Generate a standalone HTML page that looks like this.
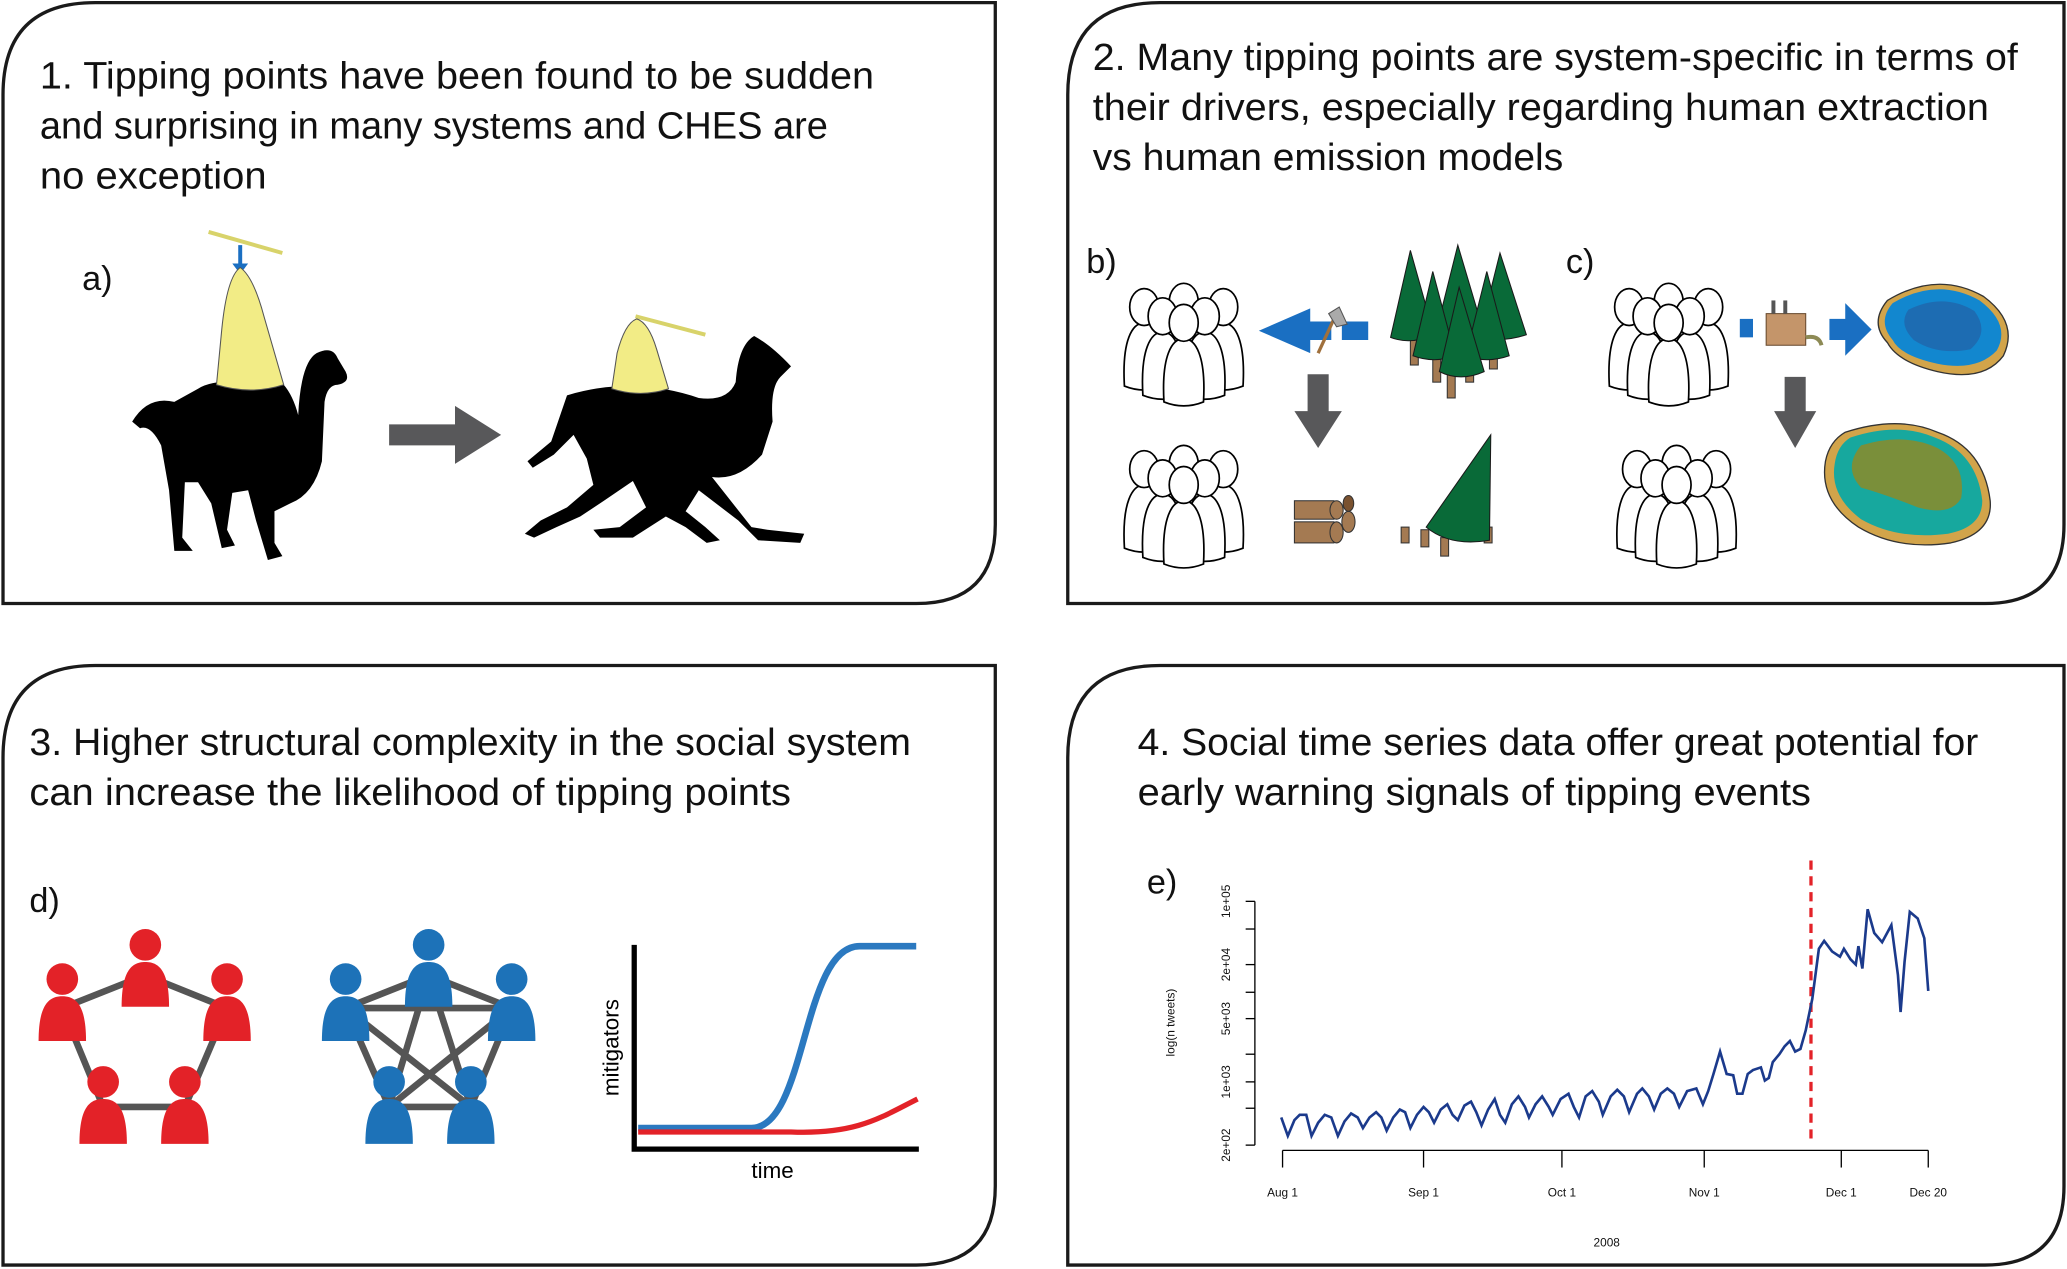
<!DOCTYPE html>
<html><head><meta charset="utf-8"><style>
html,body{margin:0;padding:0;background:#fff;}
svg{display:block;}
text{font-family:"Liberation Sans",sans-serif;}
</style></head><body>
<svg width="2067" height="1269" viewBox="0 0 1568 963" xmlns="http://www.w3.org/2000/svg">
<defs>
<g id="p">
<path d="M-15,60 C-17,25 -9,12 0,12 C9,12 17,25 15,60 Q0,66 -15,60Z" fill="#fff" stroke="#000" stroke-width="1.3"/>
<ellipse cx="0" cy="0" rx="11" ry="14" fill="#fff" stroke="#000" stroke-width="1.3"/>
</g>
<g id="crowd">
<use href="#p" x="-30" y="-12"/><use href="#p" x="30" y="-12"/><use href="#p" x="0" y="-16"/>
<use href="#p" x="-16" y="-5"/><use href="#p" x="16" y="-5"/><use href="#p" x="0" y="0"/>
</g>
<g id="rp"><path d="M-18,40 C-18,12 -10,6 0,6 C10,6 18,12 18,40 Z"/><circle cx="0" cy="-7" r="12"/></g>
</defs>

<!-- panels -->
<g fill="none" stroke="#1a1a1a" stroke-width="2.5">
<path d="M2,458 L2,72 Q2,2 72,2 L755,2 L755,398 Q755,458 695,458 Z"/>
<path d="M810,458 L810,72 Q810,2 880,2 L1566,2 L1566,398 Q1566,458 1506,458 Z"/>
<path d="M2,960 L2,575 Q2,505 72,505 L755,505 L755,900 Q755,960 695,960 Z"/>
<path d="M810,960 L810,575 Q810,505 880,505 L1566,505 L1566,900 Q1566,960 1506,960 Z"/>
</g>

<!-- headings -->
<g font-size="29" fill="#111">
<text x="30" y="67" textLength="633" lengthAdjust="spacingAndGlyphs">1. Tipping points have been found to be sudden</text>
<text x="30" y="105" textLength="598" lengthAdjust="spacingAndGlyphs">and surprising in many systems and CHES are</text>
<text x="30" y="143" textLength="172" lengthAdjust="spacingAndGlyphs">no exception</text>
<text x="829" y="53" textLength="702" lengthAdjust="spacingAndGlyphs">2. Many tipping points are system-specific in terms of</text>
<text x="829" y="91" textLength="680" lengthAdjust="spacingAndGlyphs">their drivers, especially regarding human extraction</text>
<text x="829" y="129" textLength="357" lengthAdjust="spacingAndGlyphs">vs human emission models</text>
<text x="22" y="573" textLength="669" lengthAdjust="spacingAndGlyphs">3. Higher structural complexity in the social system</text>
<text x="22" y="611" textLength="578" lengthAdjust="spacingAndGlyphs">can increase the likelihood of tipping points</text>
<text x="863" y="573" textLength="638" lengthAdjust="spacingAndGlyphs">4. Social time series data offer great potential for</text>
<text x="863" y="611" textLength="511" lengthAdjust="spacingAndGlyphs">early warning signals of tipping events</text>
</g>
<g font-size="26" fill="#111">
<text x="62" y="220">a)</text><text x="824" y="207">b)</text><text x="1188" y="207">c)</text>
<text x="22" y="692">d)</text><text x="870" y="678">e)</text>
</g>

<!-- panel 1: camels -->
<line x1="158" y1="176" x2="214" y2="192" stroke="#d8d36a" stroke-width="3"/>
<line x1="182" y1="186" x2="182" y2="202" stroke="#1a6fc2" stroke-width="3"/>
<path d="M176,200 L188,200 L182,208Z" fill="#1a6fc2"/>
<path d="M150,295 Q165,285 215,292 Q222,300 226,315 Q228,275 240,268 Q252,262 256,272 L262,282 Q266,290 256,292 Q248,292 246,305 L244,350 Q238,375 220,382 L208,388 L208,412 L214,422 L203,425 L194,395 L188,372 L176,374 L172,402 L178,414 L168,416 L160,382 L150,366 L140,366 L138,408 L146,418 L132,418 L128,372 L122,338 Q114,322 106,325 L100,320 Q112,300 132,305 Z" fill="#000"/>
<path d="M164,292 L168,250 Q172,210 182,203 Q192,210 200,240 L215,292 Q190,300 164,292Z" fill="#f2ec86" stroke="#555" stroke-width="0.8"/>
<path d="M295,322 L345,322 L345,308 L380,330 L345,352 L345,338 L295,338Z" fill="#58585a"/>
<line x1="482" y1="240" x2="535" y2="254" stroke="#d8d36a" stroke-width="3"/>
<path d="M430,300 Q480,285 530,302 Q552,305 558,290 Q560,262 572,255 Q585,262 600,278 L592,286 Q584,294 586,320 L578,345 Q560,365 540,362 L570,400 L582,402 L610,405 L607,412 L575,410 L560,395 L530,372 L520,388 L535,400 L546,410 L536,412 L520,400 L505,392 L480,408 L455,408 L450,402 L470,400 L490,385 L480,365 L458,380 L440,392 L422,400 L405,408 L398,405 L410,395 L430,385 L450,368 L445,348 L435,330 L420,345 L404,355 L400,350 L418,335 Z" fill="#000"/>
<path d="M464,295 L468,268 Q474,245 483,242 Q492,245 498,265 L507,295 Q486,302 464,295Z" fill="#f2ec86" stroke="#555" stroke-width="0.8"/>

<!-- panel 2 b -->
<use href="#crowd" x="898" y="245"/>
<use href="#crowd" x="898" y="368"/>
<path d="M1018,244 L1038,244 L1038,258 L1018,258Z M1010,244 L994,244 L994,234 L955,251 L994,268 L994,258 L1010,258Z" fill="#1a6fc2"/>
<line x1="1000" y1="268" x2="1012" y2="242" stroke="#a0703c" stroke-width="2.5"/>
<path d="M1008,238 L1016,233 L1022,246 L1014,248Z" fill="#aaa" stroke="#555" stroke-width="0.8"/>
<path d="M992,284 L1008,284 L1008,312 L1018,312 L1000,340 L982,312 L992,312Z" fill="#58585a"/>
<g fill="#a47a52" stroke="#333" stroke-width="0.8">
<rect x="1070" y="255" width="6" height="22"/><rect x="1098" y="268" width="6" height="34"/><rect x="1112" y="262" width="6" height="28"/><rect x="1087" y="262" width="6" height="28"/><rect x="1130" y="255" width="6" height="25"/>
</g>
<g fill="#096a38" stroke="#1a1a1a" stroke-width="0.8">
<path d="M1070,190 L1055,256 Q1070,262 1088,254Z"/><path d="M1106,186 L1090,250 Q1108,256 1125,250Z"/><path d="M1138,192 L1122,256 Q1140,260 1158,254Z"/>
<path d="M1087,206 L1072,270 Q1088,276 1104,270Z"/><path d="M1128,206 L1112,270 Q1128,276 1145,270Z"/><path d="M1107,218 L1092,282 Q1108,290 1126,282Z"/>
</g>
<g fill="#a47a52" stroke="#333" stroke-width="0.8">
<rect x="982" y="380" width="30" height="14"/><rect x="982" y="396" width="30" height="16"/>
<ellipse cx="1014" cy="387" rx="5" ry="7"/><ellipse cx="1014" cy="404" rx="5" ry="8"/><ellipse cx="1023" cy="396" rx="5" ry="8"/><ellipse cx="1023" cy="382" rx="4" ry="6" fill="#7a5230"/>
<rect x="1063" y="400" width="6" height="12"/><rect x="1078" y="402" width="6" height="13"/><rect x="1093" y="408" width="6" height="14"/><rect x="1126" y="400" width="6" height="12"/>
</g>
<path d="M1131,330 L1082,400 Q1100,415 1130,410Z" fill="#096a38" stroke="#1a1a1a" stroke-width="0.8"/>

<!-- panel 2 c -->
<use href="#crowd" x="1266" y="245"/>
<use href="#crowd" x="1272" y="368"/>
<rect x="1320" y="242" width="10" height="14" fill="#1a6fc2"/>
<rect x="1340" y="238" width="30" height="24" fill="#c4956a" stroke="#6a4c30" stroke-width="0.8"/>
<rect x="1344" y="228" width="3" height="10" fill="#555"/><rect x="1353" y="228" width="3" height="10" fill="#555"/>
<path d="M1370,256 Q1380,254 1382,262" stroke="#8d8a55" stroke-width="3" fill="none"/>
<path d="M1388,242 L1400,242 L1400,230 L1420,250 L1400,270 L1400,258 L1388,258Z" fill="#1a6fc2"/>
<path d="M1354,286 L1370,286 L1370,312 L1378,312 L1362,340 L1346,312 L1354,312Z" fill="#58585a"/>
<path d="M1432,228 Q1470,205 1505,225 Q1532,245 1520,270 Q1505,290 1470,282 Q1440,275 1432,260 Q1418,245 1432,228Z" fill="#d2a44a" stroke="#333" stroke-width="1"/>
<path d="M1436,230 Q1470,210 1502,228 Q1526,246 1515,266 Q1500,282 1470,276 Q1442,270 1436,258 Q1424,244 1436,230Z" fill="#1287cf"/>
<path d="M1448,235 Q1475,222 1498,236 Q1510,252 1495,265 Q1470,270 1452,258 Q1440,246 1448,235Z" fill="#1d6cb2"/>
<path d="M1400,328 Q1440,315 1470,328 Q1505,340 1510,380 Q1512,405 1480,412 Q1440,418 1410,400 Q1380,380 1385,350 Q1388,335 1400,328Z" fill="#d2a44a" stroke="#333" stroke-width="1"/>
<path d="M1404,332 Q1440,320 1468,332 Q1500,344 1504,380 Q1504,400 1478,405 Q1440,410 1412,394 Q1388,376 1392,352 Q1394,338 1404,332Z" fill="#17a89e"/>
<path d="M1412,338 Q1445,328 1470,340 Q1492,352 1488,378 Q1480,392 1455,385 Q1430,375 1412,370 Q1398,355 1412,338Z" fill="#7a8f3a"/>

<!-- panel 3 networks -->
<g stroke="#555" stroke-width="5">
<line x1="47" y1="765" x2="110" y2="740"/><line x1="110" y1="740" x2="172" y2="765"/><line x1="172" y1="765" x2="140" y2="840"/><line x1="140" y1="840" x2="78" y2="840"/><line x1="78" y1="840" x2="47" y2="765"/>
<line x1="262" y1="765" x2="325" y2="740"/><line x1="325" y1="740" x2="388" y2="765"/><line x1="388" y1="765" x2="357" y2="840"/><line x1="357" y1="840" x2="295" y2="840"/><line x1="295" y1="840" x2="262" y2="765"/>
<line x1="262" y1="765" x2="388" y2="765"/><line x1="262" y1="765" x2="357" y2="840"/><line x1="325" y1="740" x2="295" y2="840"/><line x1="325" y1="740" x2="357" y2="840"/><line x1="388" y1="765" x2="295" y2="840"/>
</g>
<g fill="#e32228">
<use href="#rp" x="47" y="750"/><use href="#rp" x="110" y="724"/><use href="#rp" x="172" y="750"/><use href="#rp" x="78" y="828"/><use href="#rp" x="140" y="828"/>
</g>
<g fill="#1d72b8">
<use href="#rp" x="262" y="750"/><use href="#rp" x="325" y="724"/><use href="#rp" x="388" y="750"/><use href="#rp" x="295" y="828"/><use href="#rp" x="357" y="828"/>
</g>
<path d="M481,717 L481,872 L697,872" fill="none" stroke="#000" stroke-width="4"/>
<path d="M484,856 L570,856 C612,856 608,718 652,718 L695,718" fill="none" stroke="#2b79c0" stroke-width="5"/>
<path d="M484,859 L600,859 C650,861 668,848 696,834" fill="none" stroke="#e32228" stroke-width="4"/>
<text x="586" y="894" font-size="17" text-anchor="middle">time</text>
<text transform="translate(469,795) rotate(-90)" font-size="17" text-anchor="middle">mitigators</text>

<!-- panel 4 chart -->
<g stroke="#000" stroke-width="1" fill="none">
<line x1="952" y1="684" x2="952" y2="869"/>
<line x1="945" y1="684" x2="952" y2="684"/><line x1="945" y1="705" x2="952" y2="705"/><line x1="945" y1="732" x2="952" y2="732"/><line x1="945" y1="753" x2="952" y2="753"/><line x1="945" y1="773" x2="952" y2="773"/><line x1="945" y1="800" x2="952" y2="800"/><line x1="945" y1="821" x2="952" y2="821"/><line x1="945" y1="841" x2="952" y2="841"/><line x1="945" y1="869" x2="952" y2="869"/>
<line x1="973" y1="873" x2="1463" y2="873"/>
<line x1="973" y1="873" x2="973" y2="886"/><line x1="1080" y1="873" x2="1080" y2="886"/><line x1="1185" y1="873" x2="1185" y2="886"/><line x1="1293" y1="873" x2="1293" y2="886"/><line x1="1397" y1="873" x2="1397" y2="886"/><line x1="1463" y1="873" x2="1463" y2="886"/>
</g>
<g font-size="9" fill="#111" text-anchor="middle">
<text x="973" y="908">Aug 1</text><text x="1080" y="908">Sep 1</text><text x="1185" y="908">Oct 1</text><text x="1293" y="908">Nov 1</text><text x="1397" y="908">Dec 1</text><text x="1463" y="908">Dec 20</text>
<text x="1219" y="946">2008</text>
<text transform="translate(933,869) rotate(-90)">2e+02</text>
<text transform="translate(933,821) rotate(-90)">1e+03</text>
<text transform="translate(933,773) rotate(-90)">5e+03</text>
<text transform="translate(933,732) rotate(-90)">2e+04</text>
<text transform="translate(933,684) rotate(-90)">1e+05</text>
<text transform="translate(891,776) rotate(-90)">log(n tweets)</text>
</g>
<line x1="1374" y1="653" x2="1374" y2="866" stroke="#e32228" stroke-width="2.5" stroke-dasharray="7,5"/>
<polyline fill="none" stroke="#1b3a8c" stroke-width="2" points="972,848 977,862 982,850 986,846 991,846 995,862 1000,852 1005,846 1010,848 1015,862 1020,851 1025,845 1030,848 1034,856 1039,848 1044,844 1048,848 1052,858 1057,848 1062,842 1066,844 1070,856 1075,846 1080,840 1084,844 1088,852 1093,842 1098,838 1102,846 1106,850 1111,839 1116,836 1120,844 1124,854 1129,842 1134,834 1138,846 1142,852 1147,838 1152,832 1157,840 1160,848 1165,838 1170,832 1175,840 1178,846 1184,834 1190,830 1194,840 1198,848 1203,832 1208,828 1213,836 1216,846 1222,832 1227,827 1232,832 1236,844 1242,830 1246,826 1251,832 1255,842 1260,830 1265,826 1270,830 1274,840 1280,828 1287,826 1292,838 1296,828 1300,815 1305,798 1310,815 1315,816 1318,830 1322,830 1326,815 1330,812 1336,810 1339,820 1342,818 1345,806 1350,800 1354,794 1358,790 1362,798 1366,796 1370,782 1375,758 1380,720 1384,714 1390,722 1396,726 1399,720 1404,728 1408,732 1410,718 1413,735 1417,690 1422,708 1428,715 1435,702 1440,740 1442,768 1445,730 1449,692 1455,697 1460,712 1463,752"/>
</svg>
</body></html>
